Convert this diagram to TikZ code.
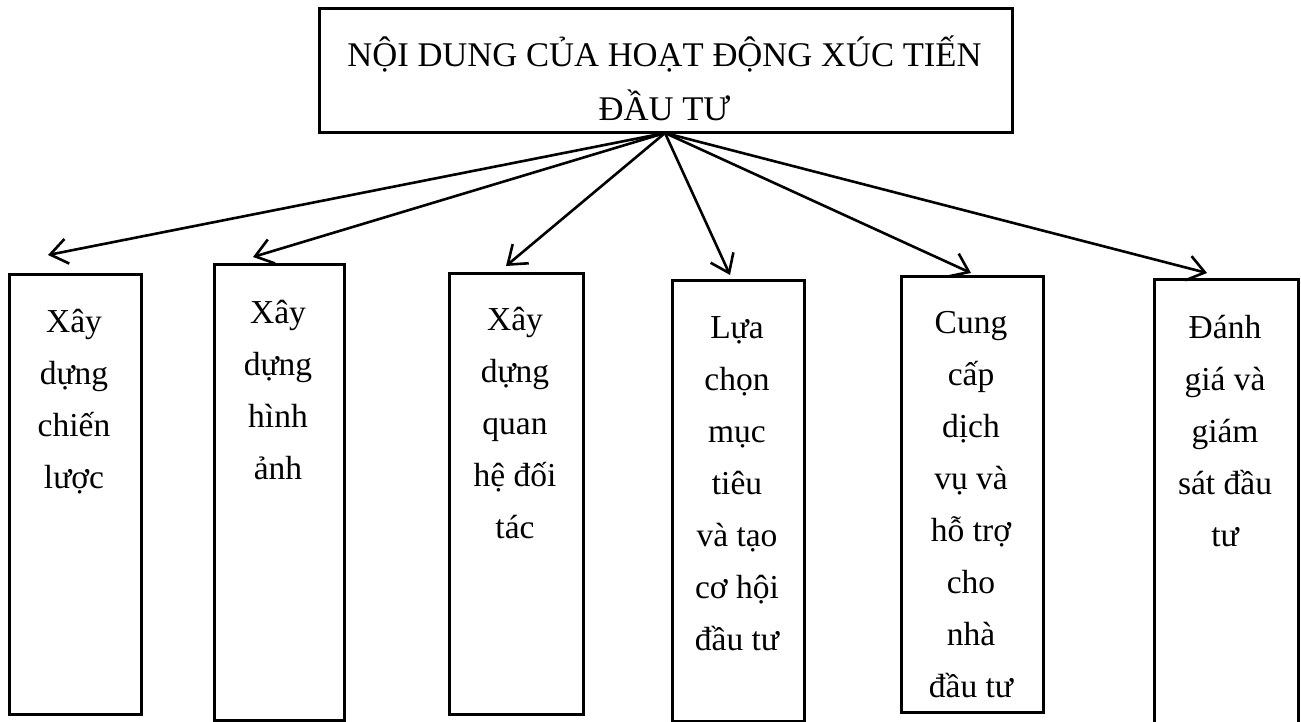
\documentclass[tikz,border=0pt]{standalone}
\usepackage{fontspec}
\setmainfont{Liberation Serif}
\usetikzlibrary{arrows.meta}
\begin{document}
\begin{tikzpicture}[x=1pt,y=-1pt,
  box/.style={draw, line width=2.8pt, rectangle, inner sep=0pt, anchor=north west},
  lbl/.style={anchor=north, inner sep=0pt, align=center, font=\fontsize{33.5}{52}\selectfont},
  arr/.style={line width=2.6pt, -{Straight Barb[length=17pt,width=25pt,line width=2.6pt]}}]
\useasboundingbox (0,0) rectangle (1301,722);
\clip (0,0) rectangle (1301,722);
% top box
\node[box, minimum width=693pt, minimum height=124pt] (top) at (318,7) {};
\node[lbl, font=\fontsize{34.6}{54}\selectfont] (title) at (664.5,28.2) {\strut NỘI DUNG CỦA HOẠT ĐỘNG XÚC TIẾN\\ĐẦU TƯ};
% boxes
\node[box, minimum width=132pt, minimum height=440pt] (b1) at (8,273) {};
\node[box, minimum width=130pt, minimum height=456pt] (b2) at (213,263) {};
\node[box, minimum width=134pt, minimum height=441pt] (b3) at (448,272) {};
\node[box, minimum width=132pt, minimum height=441pt] (b4) at (671,279) {};
\node[box, minimum width=142pt, minimum height=436pt] (b5) at (900,275) {};
\node[box, minimum width=144pt, minimum height=460pt] (b6) at (1153,278) {};
% labels
\node[lbl] (l1) at (74,295.6) {\strut Xây\\dựng\\chiến\\lược};
\node[lbl] (l2) at (278,286.6) {\strut Xây\\dựng\\hình\\ảnh};
\node[lbl] (l3) at (515,293.6) {\strut Xây\\dựng\\quan\\hệ đối\\tác};
\node[lbl] (l4) at (737,301.6) {\strut Lựa\\chọn\\mục\\tiêu\\và tạo\\cơ hội\\đầu tư};
\node[lbl] (l5) at (971,296.6) {\strut Cung\\cấp\\dịch\\vụ và\\hỗ trợ\\cho\\nhà\\đầu tư};
\node[lbl] (l6) at (1225,301.6) {\strut Đánh\\giá và\\giám\\sát đầu\\tư};
% arrows
\coordinate (o) at (665,133);
\coordinate (t1) at (48,255);
\coordinate (t2) at (253,257);
\coordinate (t3) at (506,266);
\coordinate (t4) at (730,275);
\coordinate (t5) at (971,273);
\coordinate (t6) at (1207,273);
\foreach \t in {t1,t2,t3,t4,t5,t6} \draw[arr] (o) -- (\t);
\end{tikzpicture}
\end{document}
